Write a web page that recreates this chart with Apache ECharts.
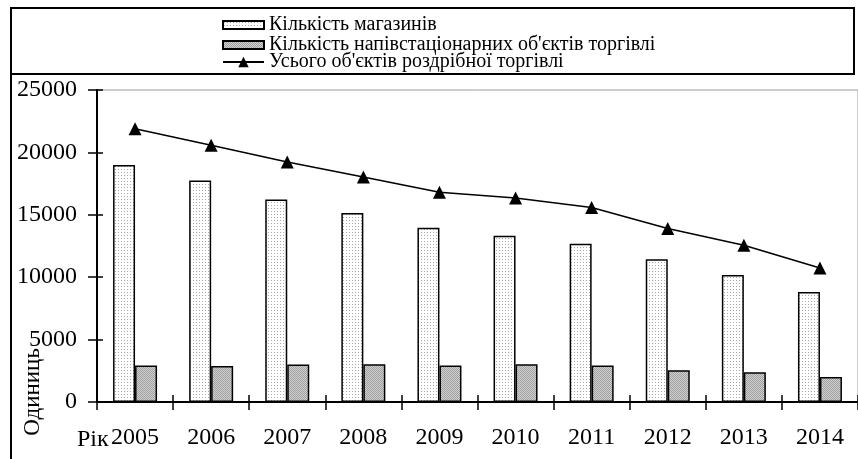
<!DOCTYPE html>
<html><head><meta charset="utf-8">
<script src="https://cdn.jsdelivr.net/npm/echarts@6/dist/echarts.min.js"></script>
<style>html,body{margin:0;padding:0;background:#fff}#c{width:858px;height:459px}</style>
</head><body><div id="c"></div>
<script>
var years = ['2005','2006','2007','2008','2009','2010','2011','2012','2013','2014'];
var shops = [19000, 17740, 16220, 15140, 13970, 13330, 12690, 11430, 10180, 8810];
var semiStationary = [2920, 2890, 3000, 3020, 2920, 3020, 2920, 2540, 2380, 2000];
var totalRetail = [21900, 20570, 19230, 18030, 16800, 16350, 15580, 13900, 12560, 10740];
var seriesNames = ['Кількість магазинів', 'Кількість напівстаціонарних об\'єктів торгівлі', 'Усього об\'єктів роздрібної торгівлі'];
var yTitle = 'Одиниць';
var xTitle = 'Рік';

function pattern(bg, dot, size, dots) {
  var c = document.createElement('canvas'); c.width = size; c.height = size;
  var g = c.getContext('2d'); g.fillStyle = bg; g.fillRect(0,0,size,size);
  g.fillStyle = dot; dots.forEach(function(d){ g.fillRect(d[0], d[1], 1, 1); });
  return {image: c, repeat: 'repeat'};
}
var p1 = pattern('#ffffff', '#a8a8a8', 3, [[1,1]]);
var p2 = pattern('#d0d0d0', '#a0a0a0', 2, [[0,0],[1,1]]);

var font = 'Liberation Serif';
var legendText = {fontFamily: font, fontSize: 20, color: '#000', lineHeight: 18.5};
var chart = echarts.init(document.getElementById('c'));
chart.setOption({
  animation: false,
  textStyle: {fontFamily: font, color: '#000'},
  grid: {left: 97, top: 90, bottom: 57, width: 767, show: true, borderColor: '#9a9a9a', borderWidth: 1},
  legend: [{
    orient: 'vertical', left: 217, top: 10, itemWidth: 41, itemHeight: 8, itemGap: 0,
    icon: 'rect', textStyle: legendText,
    data: [seriesNames[0], seriesNames[1]]
  }, {
    orient: 'vertical', left: 217, top: 47, itemWidth: 41, itemHeight: 13, itemGap: 0,
    textStyle: legendText,
    data: [seriesNames[2]]
  }],
  xAxis: [{
    type: 'category', data: years, boundaryGap: true,
    axisLine: {lineStyle: {color: '#000', width: 2}},
    axisTick: {show: true, length: 8, lineStyle: {color: '#000', width: 1.5}},
    axisLabel: {fontFamily: font, fontSize: 24, color: '#000', margin: 24}
  }, {
    type: 'category', data: years, position: 'bottom', boundaryGap: true,
    axisLine: {show: false},
    axisTick: {show: true, inside: true, length: 7, lineStyle: {color: '#000', width: 1.5}},
    axisLabel: {show: false}
  }],
  yAxis: [{
    type: 'value', min: 0, max: 25000, interval: 5000,
    axisLine: {show: true, lineStyle: {color: '#000', width: 2}},
    axisTick: {show: true, length: 9, lineStyle: {color: '#000', width: 1.5}},
    splitLine: {show: false},
    axisLabel: {fontFamily: font, fontSize: 24, color: '#000', margin: 20,
      formatter: function (v) { return String(v); }}
  }, {
    type: 'value', min: 0, max: 25000, interval: 5000, position: 'left',
    axisLine: {show: false},
    axisTick: {show: true, inside: true, length: 6, lineStyle: {color: '#000', width: 1.5}},
    splitLine: {show: false},
    axisLabel: {show: false}
  }],
  series: [{
    name: seriesNames[0], type: 'bar', data: shops, barWidth: 22, barGap: '0%',
    itemStyle: {color: p1, borderColor: '#000', borderWidth: 1.5}
  }, {
    name: seriesNames[1], type: 'bar', data: semiStationary, barWidth: 22, barGap: '0%',
    itemStyle: {color: p2, borderColor: '#000', borderWidth: 1.5}
  }, {
    name: seriesNames[2], type: 'line', data: totalRetail,
    symbol: 'triangle', symbolSize: 13,
    lineStyle: {color: '#000', width: 1.5},
    itemStyle: {color: '#000'}
  }],
  graphic: [
    {type: 'line', shape: {x1: 11, y1: 7, x2: 11, y2: 459}, style: {stroke: '#000', lineWidth: 2}},
    {type: 'line', shape: {x1: 10, y1: 8, x2: 855, y2: 8}, style: {stroke: '#000', lineWidth: 2}},
    {type: 'line', shape: {x1: 854, y1: 7, x2: 854, y2: 75}, style: {stroke: '#000', lineWidth: 2}},
    {type: 'line', shape: {x1: 10, y1: 74, x2: 855, y2: 74}, style: {stroke: '#000', lineWidth: 2}},
    {type: 'text', x: 33, y: 392, rotation: Math.PI / 2,
     style: {text: yTitle, font: '23px "Liberation Serif"', fill: '#000', textAlign: 'center', textVerticalAlign: 'middle'}},
    {type: 'text', x: 77, y: 440,
     style: {text: xTitle, font: '24px "Liberation Serif"', fill: '#000', textAlign: 'left', textVerticalAlign: 'middle'}}
  ]
});
</script></body></html>
